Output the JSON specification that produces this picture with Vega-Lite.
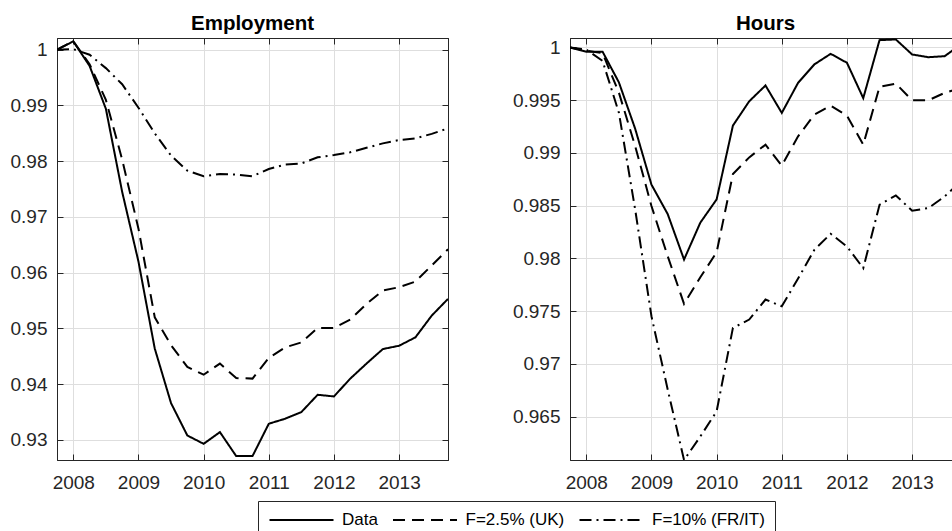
{
  "$schema": "https://vega.github.io/schema/vega-lite/v6.json",
  "padding": {"left": 9, "top": 13, "right": 0, "bottom": 0},
  "background": "white",
  "datasets": {
    "emp": [
      {"t":2007.75,"s":"Data","v":1.0},{"t":2008,"s":"Data","v":1.0015},{"t":2008.25,"s":"Data","v":0.9971},{"t":2008.5,"s":"Data","v":0.9894},{"t":2008.75,"s":"Data","v":0.9745},{"t":2009,"s":"Data","v":0.962},{"t":2009.25,"s":"Data","v":0.9464},{"t":2009.5,"s":"Data","v":0.9366},{"t":2009.75,"s":"Data","v":0.9308},{"t":2010,"s":"Data","v":0.9293},{"t":2010.25,"s":"Data","v":0.9314},{"t":2010.5,"s":"Data","v":0.9271},{"t":2010.75,"s":"Data","v":0.9271},{"t":2011,"s":"Data","v":0.9329},{"t":2011.25,"s":"Data","v":0.9338},{"t":2011.5,"s":"Data","v":0.935},{"t":2011.75,"s":"Data","v":0.9381},{"t":2012,"s":"Data","v":0.9378},{"t":2012.25,"s":"Data","v":0.941},{"t":2012.5,"s":"Data","v":0.9437},{"t":2012.75,"s":"Data","v":0.9463},{"t":2013,"s":"Data","v":0.9469},{"t":2013.25,"s":"Data","v":0.9484},{"t":2013.5,"s":"Data","v":0.9523},{"t":2013.75,"s":"Data","v":0.9553},
      {"t":2007.75,"s":"F=2.5% (UK)","v":1.0},{"t":2008,"s":"F=2.5% (UK)","v":1.0015},{"t":2008.25,"s":"F=2.5% (UK)","v":0.9974},{"t":2008.5,"s":"F=2.5% (UK)","v":0.991},{"t":2008.75,"s":"F=2.5% (UK)","v":0.9803},{"t":2009,"s":"F=2.5% (UK)","v":0.9679},{"t":2009.25,"s":"F=2.5% (UK)","v":0.952},{"t":2009.5,"s":"F=2.5% (UK)","v":0.947},{"t":2009.75,"s":"F=2.5% (UK)","v":0.9431},{"t":2010,"s":"F=2.5% (UK)","v":0.9417},{"t":2010.25,"s":"F=2.5% (UK)","v":0.9437},{"t":2010.5,"s":"F=2.5% (UK)","v":0.9411},{"t":2010.75,"s":"F=2.5% (UK)","v":0.941},{"t":2011,"s":"F=2.5% (UK)","v":0.9447},{"t":2011.25,"s":"F=2.5% (UK)","v":0.9466},{"t":2011.5,"s":"F=2.5% (UK)","v":0.9475},{"t":2011.75,"s":"F=2.5% (UK)","v":0.9501},{"t":2012,"s":"F=2.5% (UK)","v":0.9501},{"t":2012.25,"s":"F=2.5% (UK)","v":0.9516},{"t":2012.5,"s":"F=2.5% (UK)","v":0.9544},{"t":2012.75,"s":"F=2.5% (UK)","v":0.9568},{"t":2013,"s":"F=2.5% (UK)","v":0.9574},{"t":2013.25,"s":"F=2.5% (UK)","v":0.9584},{"t":2013.5,"s":"F=2.5% (UK)","v":0.9613},{"t":2013.75,"s":"F=2.5% (UK)","v":0.9642},
      {"t":2007.75,"s":"F=10% (FR/IT)","v":1.0},{"t":2008,"s":"F=10% (FR/IT)","v":1.0001},{"t":2008.25,"s":"F=10% (FR/IT)","v":0.9991},{"t":2008.5,"s":"F=10% (FR/IT)","v":0.9967},{"t":2008.75,"s":"F=10% (FR/IT)","v":0.9938},{"t":2009,"s":"F=10% (FR/IT)","v":0.9896},{"t":2009.25,"s":"F=10% (FR/IT)","v":0.985},{"t":2009.5,"s":"F=10% (FR/IT)","v":0.981},{"t":2009.75,"s":"F=10% (FR/IT)","v":0.9783},{"t":2010,"s":"F=10% (FR/IT)","v":0.9773},{"t":2010.25,"s":"F=10% (FR/IT)","v":0.9777},{"t":2010.5,"s":"F=10% (FR/IT)","v":0.9776},{"t":2010.75,"s":"F=10% (FR/IT)","v":0.9773},{"t":2011,"s":"F=10% (FR/IT)","v":0.9786},{"t":2011.25,"s":"F=10% (FR/IT)","v":0.9794},{"t":2011.5,"s":"F=10% (FR/IT)","v":0.9796},{"t":2011.75,"s":"F=10% (FR/IT)","v":0.9807},{"t":2012,"s":"F=10% (FR/IT)","v":0.9811},{"t":2012.25,"s":"F=10% (FR/IT)","v":0.9816},{"t":2012.5,"s":"F=10% (FR/IT)","v":0.9824},{"t":2012.75,"s":"F=10% (FR/IT)","v":0.9832},{"t":2013,"s":"F=10% (FR/IT)","v":0.9838},{"t":2013.25,"s":"F=10% (FR/IT)","v":0.9841},{"t":2013.5,"s":"F=10% (FR/IT)","v":0.9849},{"t":2013.75,"s":"F=10% (FR/IT)","v":0.9859}
    ],
    "hrs": [
      {"t":2007.75,"s":"Data","v":1.0},{"t":2008,"s":"Data","v":0.9996},{"t":2008.25,"s":"Data","v":0.9996},{"t":2008.5,"s":"Data","v":0.9967},{"t":2008.75,"s":"Data","v":0.9923},{"t":2009,"s":"Data","v":0.987},{"t":2009.25,"s":"Data","v":0.9842},{"t":2009.5,"s":"Data","v":0.9799},{"t":2009.75,"s":"Data","v":0.9834},{"t":2010,"s":"Data","v":0.9856},{"t":2010.25,"s":"Data","v":0.9926},{"t":2010.5,"s":"Data","v":0.9949},{"t":2010.75,"s":"Data","v":0.9964},{"t":2011,"s":"Data","v":0.9938},{"t":2011.25,"s":"Data","v":0.99665},{"t":2011.5,"s":"Data","v":0.9984},{"t":2011.75,"s":"Data","v":0.9994},{"t":2012,"s":"Data","v":0.99855},{"t":2012.25,"s":"Data","v":0.9952},{"t":2012.5,"s":"Data","v":1.0007},{"t":2012.75,"s":"Data","v":1.00076},{"t":2013,"s":"Data","v":0.99934},{"t":2013.25,"s":"Data","v":0.99908},{"t":2013.5,"s":"Data","v":0.99918},{"t":2013.75,"s":"Data","v":1.0003},
      {"t":2007.75,"s":"F=2.5% (UK)","v":1.0},{"t":2008,"s":"F=2.5% (UK)","v":0.9997},{"t":2008.25,"s":"F=2.5% (UK)","v":0.99946},{"t":2008.5,"s":"F=2.5% (UK)","v":0.99573},{"t":2008.75,"s":"F=2.5% (UK)","v":0.99066},{"t":2009,"s":"F=2.5% (UK)","v":0.98497},{"t":2009.25,"s":"F=2.5% (UK)","v":0.9802},{"t":2009.5,"s":"F=2.5% (UK)","v":0.9757},{"t":2009.75,"s":"F=2.5% (UK)","v":0.97822},{"t":2010,"s":"F=2.5% (UK)","v":0.98059},{"t":2010.25,"s":"F=2.5% (UK)","v":0.988},{"t":2010.5,"s":"F=2.5% (UK)","v":0.98958},{"t":2010.75,"s":"F=2.5% (UK)","v":0.99079},{"t":2011,"s":"F=2.5% (UK)","v":0.9888},{"t":2011.25,"s":"F=2.5% (UK)","v":0.99158},{"t":2011.5,"s":"F=2.5% (UK)","v":0.99364},{"t":2011.75,"s":"F=2.5% (UK)","v":0.99449},{"t":2012,"s":"F=2.5% (UK)","v":0.99354},{"t":2012.25,"s":"F=2.5% (UK)","v":0.99079},{"t":2012.5,"s":"F=2.5% (UK)","v":0.99627},{"t":2012.75,"s":"F=2.5% (UK)","v":0.99658},{"t":2013,"s":"F=2.5% (UK)","v":0.995},{"t":2013.25,"s":"F=2.5% (UK)","v":0.995},{"t":2013.5,"s":"F=2.5% (UK)","v":0.9957},{"t":2013.75,"s":"F=2.5% (UK)","v":0.99617},
      {"t":2007.75,"s":"F=10% (FR/IT)","v":1.0},{"t":2008,"s":"F=10% (FR/IT)","v":0.9998},{"t":2008.25,"s":"F=10% (FR/IT)","v":0.99873},{"t":2008.5,"s":"F=10% (FR/IT)","v":0.99383},{"t":2008.75,"s":"F=10% (FR/IT)","v":0.98465},{"t":2009,"s":"F=10% (FR/IT)","v":0.97453},{"t":2009.25,"s":"F=10% (FR/IT)","v":0.96756},{"t":2009.5,"s":"F=10% (FR/IT)","v":0.9609},{"t":2009.75,"s":"F=10% (FR/IT)","v":0.96313},{"t":2010,"s":"F=10% (FR/IT)","v":0.96551},{"t":2010.25,"s":"F=10% (FR/IT)","v":0.97342},{"t":2010.5,"s":"F=10% (FR/IT)","v":0.97421},{"t":2010.75,"s":"F=10% (FR/IT)","v":0.97611},{"t":2011,"s":"F=10% (FR/IT)","v":0.97547},{"t":2011.25,"s":"F=10% (FR/IT)","v":0.9781},{"t":2011.5,"s":"F=10% (FR/IT)","v":0.98082},{"t":2011.75,"s":"F=10% (FR/IT)","v":0.98234},{"t":2012,"s":"F=10% (FR/IT)","v":0.98114},{"t":2012.25,"s":"F=10% (FR/IT)","v":0.97908},{"t":2012.5,"s":"F=10% (FR/IT)","v":0.98509},{"t":2012.75,"s":"F=10% (FR/IT)","v":0.98598},{"t":2013,"s":"F=10% (FR/IT)","v":0.98453},{"t":2013.25,"s":"F=10% (FR/IT)","v":0.98478},{"t":2013.5,"s":"F=10% (FR/IT)","v":0.98589},{"t":2013.75,"s":"F=10% (FR/IT)","v":0.98731}
    ]
  },
  "spacing": 62,
  "hconcat": [
    {
      "width": 391, "height": 422,
      "title": "Employment",
      "data": {"name": "emp"},
      "layer": [
        {
          "mark": {"type": "line", "color": "black", "strokeWidth": 2, "clip": true},
          "encoding": {
            "x": {"field": "t", "type": "quantitative", "scale": {"domain": [2007.75, 2013.75], "nice": false, "zero": false},
                  "axis": {"orient": "bottom", "values": [2008, 2009, 2010, 2011, 2012, 2013], "format": "d", "grid": true, "labelPadding": 19}},
            "y": {"field": "v", "type": "quantitative", "scale": {"domain": [0.9264, 1.0021], "nice": false, "zero": false},
                  "axis": {"orient": "left", "values": [0.93, 0.94, 0.95, 0.96, 0.97, 0.98, 0.99, 1], "format": "~g", "grid": true, "labelPadding": 16}},
            "strokeDash": {"field": "s", "type": "nominal",
                  "scale": {"domain": ["Data", "F=2.5% (UK)", "F=10% (FR/IT)"], "range": [[1, 0], [12, 7], [12, 5, 2, 5]]}}
          }
        },
        {
          "mark": {"type": "line", "opacity": 0},
          "encoding": {
            "x": {"field": "t", "type": "quantitative",
                  "axis": {"orient": "top", "values": [2008, 2009, 2010, 2011, 2012, 2013], "labels": false, "grid": false}},
            "y": {"field": "v", "type": "quantitative",
                  "axis": {"orient": "right", "values": [0.93, 0.94, 0.95, 0.96, 0.97, 0.98, 0.99, 1], "labels": false, "grid": false}},
            "detail": {"field": "s"}
          }
        }
      ],
      "resolve": {"axis": {"x": "independent", "y": "independent"}}
    },
    {
      "width": 391, "height": 422,
      "title": "Hours",
      "data": {"name": "hrs"},
      "layer": [
        {
          "mark": {"type": "line", "color": "black", "strokeWidth": 2, "clip": true},
          "encoding": {
            "x": {"field": "t", "type": "quantitative", "scale": {"domain": [2007.75, 2013.75], "nice": false, "zero": false},
                  "axis": {"orient": "bottom", "values": [2008, 2009, 2010, 2011, 2012, 2013], "format": "d", "grid": true, "labelPadding": 19}},
            "y": {"field": "v", "type": "quantitative", "scale": {"domain": [0.9609, 1.0009], "nice": false, "zero": false},
                  "axis": {"orient": "left", "values": [0.965, 0.97, 0.975, 0.98, 0.985, 0.99, 0.995, 1], "format": "~g", "grid": true, "labelPadding": 16}},
            "strokeDash": {"field": "s", "type": "nominal",
                  "scale": {"domain": ["Data", "F=2.5% (UK)", "F=10% (FR/IT)"], "range": [[1, 0], [12, 7], [12, 5, 2, 5]]}}
          }
        },
        {
          "mark": {"type": "line", "opacity": 0},
          "encoding": {
            "x": {"field": "t", "type": "quantitative",
                  "axis": {"orient": "top", "values": [2008, 2009, 2010, 2011, 2012, 2013], "labels": false, "grid": false}},
            "y": {"field": "v", "type": "quantitative",
                  "axis": {"orient": "right", "values": [0.965, 0.97, 0.975, 0.98, 0.985, 0.99, 0.995, 1], "labels": false, "grid": false}},
            "detail": {"field": "s"}
          }
        }
      ],
      "resolve": {"axis": {"x": "independent", "y": "independent"}}
    }
  ],
  "resolve": {"scale": {"strokeDash": "shared"}, "legend": {"strokeDash": "shared"}},
  "config": {
    "font": "Liberation Sans",
    "view": {"stroke": "#262626", "strokeWidth": 1},
    "axis": {
      "title": null,
      "labelFont": "Liberation Sans", "labelFontSize": 19, "labelColor": "#262626",
      "domainColor": "#262626", "domainWidth": 1,
      "tickColor": "#262626", "tickSize": -6, "tickWidth": 1,
      "gridColor": "#dedede", "gridWidth": 1, "gridOpacity": 1
    },
    "title": {"font": "Liberation Sans", "fontSize": 20.5, "fontWeight": "bold", "color": "black", "anchor": "middle", "offset": 3},
    "legend": {
      "orient": "none", "legendX": 201, "legendY": 463,
      "direction": "horizontal", "title": null,
      "symbolType": "M-4,0H4", "symbolSize": 256, "symbolStrokeWidth": 2, "symbolStrokeColor": "black",
      "symbolOffset": 24.5,
      "labelFont": "Liberation Sans", "labelFontSize": 17, "labelColor": "black",
      "labelOffset": 31.5, "columnPadding": 10.5,
      "strokeColor": "#262626", "fillColor": "white", "padding": 10
    }
  }
}
